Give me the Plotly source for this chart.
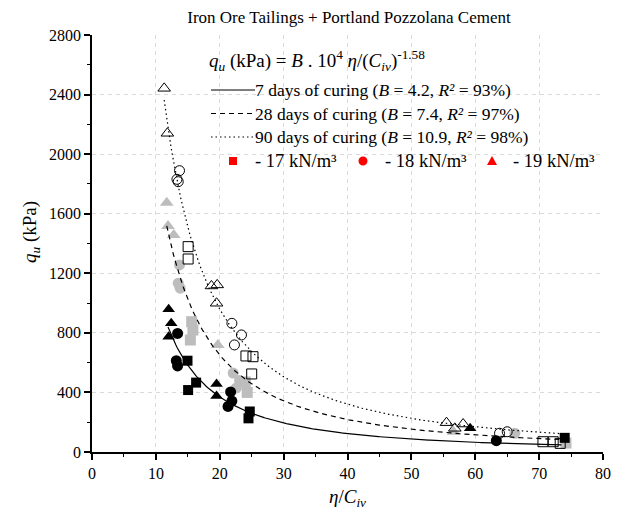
import numpy as np
import plotly.graph_objects as go

# ---------------- data ----------------
# 7 days of curing (black filled)
x7_17 = [14.95, 16.3, 15.05, 24.7, 24.5, 74.0]
y7_17 = [613, 466, 416, 272, 226, 95]
x7_18 = [13.4, 13.2, 13.4, 21.7, 21.3, 21.9, 63.3]
y7_18 = [796, 613, 578, 403, 306, 342, 76]
x7_19 = [12.0, 12.4, 12.0, 19.5, 19.5, 59.2]
y7_19 = [958, 864, 774, 457, 376, 159]

# 28 days of curing (grey filled)
x28_17 = [15.6, 15.8, 15.4, 24.0, 24.3, 74.2]
y28_17 = [875, 819, 752, 470, 400, 60]
x28_18 = [13.7, 13.5, 13.8, 22.1, 23.1, 22.6, 66.2]
y28_18 = [1256, 1133, 1100, 530, 480, 430, 126]
x28_19 = [11.7, 11.9, 12.8, 19.7, 56.6]
y28_19 = [1674, 1518, 1457, 719, 136]

# 90 days of curing (open)
x90_17 = [15.05, 15.05, 24.1, 25.2, 25.0, 70.6, 72.2, 73.3]
y90_17 = [1379, 1296, 645, 640, 524, 69, 69, 58]
x90_18 = [13.7, 13.3, 13.5, 21.9, 23.4, 22.3, 63.8, 65.0]
y90_18 = [1889, 1831, 1815, 864, 786, 719, 126, 136]
x90_19 = [11.3, 11.8, 18.7, 19.6, 19.5, 55.5, 56.8, 58.1]
y90_19 = [2442, 2140, 1115, 1122, 999, 197, 159, 188]

# fitted curves  qu = B * 1e4 * (eta/Civ)^-1.58
B_values = [4.2, 7.4, 10.9]
curve_start = [11.9, 11.7, 11.3]
curve_end = 73.5
exponent = -1.58
curve_dash = ["solid", "5px,4px", "1.5px,3px"]

x_ticks = [0, 10, 20, 30, 40, 50, 60, 70, 80]
y_ticks = [0, 400, 800, 1200, 1600, 2000, 2400, 2800]

BLACK = "#000000"
GREY = "#bdbdbd"
RED = "#ff0000"
FONT = "Liberation Serif"

fig = go.Figure()

def add_markers(x, y, symbol, color, open_=False, size=10):
    if open_:
        marker = dict(symbol=symbol + "-open", size=size, color=BLACK,
                      line=dict(color=BLACK, width=1))
    else:
        marker = dict(symbol=symbol, size=size, color=color,
                      line=dict(color=color, width=0))
    fig.add_trace(go.Scatter(x=x, y=y, mode="markers", marker=marker,
                             showlegend=False, hoverinfo="x+y"))

# grey (28 d)
add_markers(x28_17, y28_17, "square", GREY, size=11)
add_markers(x28_18, y28_18, "circle", GREY, size=11)
add_markers(x28_19, y28_19, "triangle-up", GREY, size=12)
# black (7 d)
add_markers(x7_17, y7_17, "square", BLACK)
add_markers(x7_18, y7_18, "circle", BLACK, size=11)
add_markers(x7_19, y7_19, "triangle-up", BLACK, size=11)
# open (90 d)
add_markers(x90_17, y90_17, "square", BLACK, open_=True)
add_markers(x90_18, y90_18, "circle", BLACK, open_=True)
add_markers(x90_19, y90_19, "triangle-up", BLACK, open_=True, size=11)

for B, xs, dash in zip(B_values, curve_start, curve_dash):
    xc = np.linspace(xs, curve_end, 300)
    yc = B * 1e4 * xc ** exponent
    fig.add_trace(go.Scatter(x=xc, y=yc, mode="lines",
                             line=dict(color=BLACK, width=1.2, dash=dash),
                             showlegend=False, hoverinfo="skip"))

# ---------------- geometry (page has an 8px body margin) ----------------
OFF = 8
W, H = 624 - OFF, 523 - OFF
PX0, PX1, PY0, PY1 = 92, 603, 35, 452          # plot area in page pixels
L, T = PX0 - OFF, PY0 - OFF
pw, ph = PX1 - PX0, PY1 - PY0
R, Bm = W - L - pw, H - T - ph

def px(xp):
    return (xp - PX0) / pw

def py(yp):
    return (PY1 - yp) / ph

ann = []
shapes = []
ann.append(dict(x=px(207), y=py(61), xref="paper", yref="paper",
                xanchor="left", yanchor="middle", showarrow=False,
                text="<i>q<sub>u</sub></i> (kPa) = <i>B</i> . 10<sup>4</sup> "
                     "<i>η</i>/(<i>C<sub>iv</sub></i>)<sup>-1.58</sup>",
                font=dict(family=FONT, size=19, color=BLACK)))
labels = ["7 days of curing (<i>B</i> = 4.2, <i>R²</i> = 93%)",
          "28 days of curing (<i>B</i> = 7.4, <i>R²</i> = 97%)",
          "90 days of curing (<i>B</i> = 10.9, <i>R²</i> = 98%)"]
rows = [90, 113.5, 137]
for lab, yy, dash in zip(labels, rows, curve_dash):
    shapes.append(dict(type="line", xref="paper", yref="paper",
                       x0=px(211), x1=px(255), y0=py(yy), y1=py(yy),
                       line=dict(color=BLACK, width=1.2, dash=dash)))
    ann.append(dict(x=px(253), y=py(yy), xref="paper", yref="paper",
                    xanchor="left", yanchor="middle", showarrow=False,
                    text=lab, font=dict(family=FONT, size=17.5, color=BLACK)))

ym = 161
shapes.append(dict(type="rect", xref="paper", yref="paper",
                   x0=px(229), x1=px(237), y0=py(ym + 4), y1=py(ym - 4),
                   fillcolor=RED, line=dict(width=0)))
shapes.append(dict(type="circle", xref="paper", yref="paper",
                   x0=px(358.5), x1=px(367.5), y0=py(ym + 4.5), y1=py(ym - 4.5),
                   fillcolor=RED, line=dict(width=0)))
shapes.append(dict(type="path", xref="paper", yref="paper",
                   path=f"M {px(487)} {py(ym+4)} L {px(497)} {py(ym+4)} L {px(492)} {py(ym-5)} Z",
                   fillcolor=RED, line=dict(width=0)))
for xx, t in [(253, "- 17 kN/m³"), (383, "- 18 kN/m³"), (511, "- 19 kN/m³")]:
    ann.append(dict(x=px(xx), y=py(ym), xref="paper", yref="paper",
                    xanchor="left", yanchor="middle", showarrow=False,
                    text=t, font=dict(family=FONT, size=18.5, color=BLACK)))

# axis titles
ann.append(dict(x=px(31), y=py(232), xref="paper", yref="paper",
                xanchor="center", yanchor="middle", showarrow=False, textangle=-90,
                text="<i>q<sub>u</sub></i> (kPa)",
                font=dict(family=FONT, size=19, color=BLACK)))
ann.append(dict(x=px(347), y=py(498), xref="paper", yref="paper",
                xanchor="center", yanchor="middle", showarrow=False,
                text="<i>η</i>/<i>C<sub>iv</sub></i>",
                font=dict(family=FONT, size=19, color=BLACK)))

axis_common = dict(ticks="outside", ticklen=6, tickwidth=1.5, tickcolor=BLACK,
                   showline=True, linewidth=1.5, linecolor=BLACK, zeroline=False,
                   showgrid=True, gridcolor="#d9d9d9", griddash="4px,4px", gridwidth=1,
                   tickfont=dict(family=FONT, size=16, color=BLACK),
                   automargin=False)

fig.update_layout(
    width=W, height=H,
    margin=dict(l=L, r=R, t=T, b=Bm, autoexpand=False),
    paper_bgcolor="white", plot_bgcolor="white",
    title=dict(text="Iron Ore Tailings + Portland Pozzolana Cement",
               x=(349 - OFF) / W, xanchor="center", y=1 - (17 - OFF) / H, yanchor="middle",
               font=dict(family=FONT, size=17, color=BLACK)),
    annotations=ann, shapes=shapes,
    font=dict(family=FONT, color=BLACK),
    xaxis=dict(range=[0, 80], tickvals=x_ticks,
               minor=dict(dtick=5, ticks="outside", ticklen=3, tickcolor=BLACK,
                          tickwidth=1.2, showgrid=False),
               **axis_common),
    yaxis=dict(range=[0, 2800], tickvals=y_ticks,
               minor=dict(dtick=200, ticks="outside", ticklen=3, tickcolor=BLACK,
                          tickwidth=1.2, showgrid=False),
               **axis_common),
)

fig.write_html("out.html")
